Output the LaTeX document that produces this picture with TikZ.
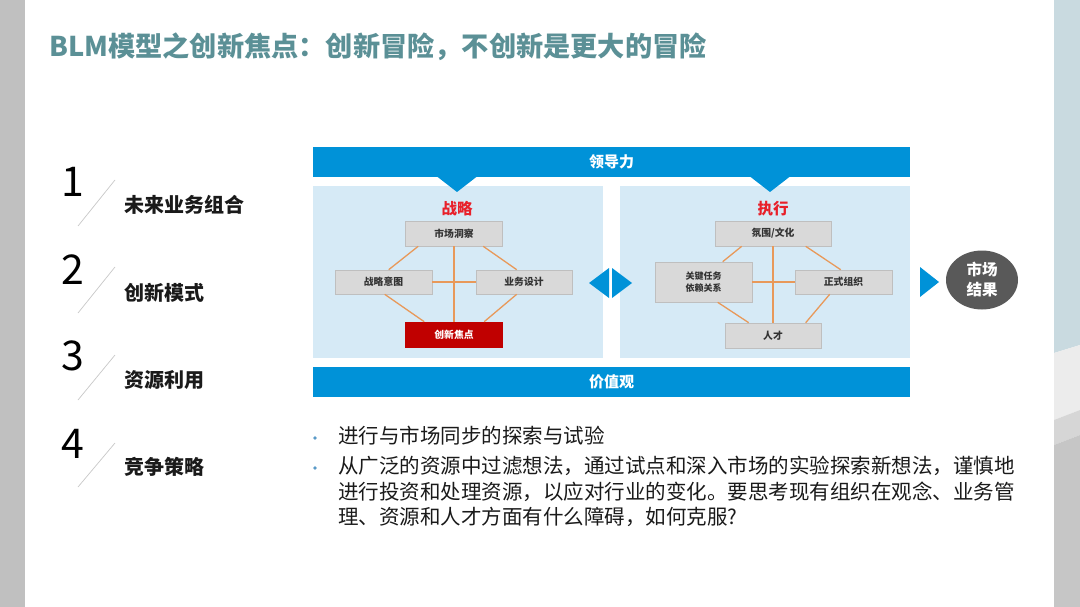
\documentclass[tikz,border=0pt]{standalone}
\usepackage{fontspec}
\setmainfont{Noto Sans CJK SC}
\usetikzlibrary{calc,shapes.geometric}
\definecolor{bluebar}{HTML}{0092D8}
\definecolor{panelcol}{HTML}{D6EAF6}
\definecolor{boxgray}{HTML}{D9D9D9}
\definecolor{boxline}{HTML}{BFBFBF}
\definecolor{boxred}{HTML}{C00000}
\definecolor{redtext}{HTML}{E8202A}
\definecolor{linkcol}{HTML}{E8995A}
\definecolor{ellcol}{HTML}{595959}
\definecolor{titlecol}{HTML}{5B9096}
\definecolor{leftgray}{HTML}{C0C0C0}
\definecolor{stripblue}{HTML}{C9DAE0}
\definecolor{stripl}{HTML}{ECECEC}
\definecolor{stripm}{HTML}{D6D6D6}
\definecolor{stripd}{HTML}{C6C6C6}
\definecolor{slashcol}{HTML}{C8C8C8}
\definecolor{bulletcol}{HTML}{5A9AC8}
\definecolor{bodytext}{HTML}{1A1A1A}
\tikzset{
  bar/.style={fill=bluebar, draw=none, text=white, font=\fontsize{15}{18}\selectfont\bfseries,
    minimum width=597pt, minimum height=30pt, inner sep=0pt},
  panel/.style={fill=panelcol, draw=none, minimum width=290pt, minimum height=172pt, inner sep=0pt},
  gbox/.style={fill=boxgray, draw=boxline, line width=0.6pt, text=black!80,
    font=\fontsize{9.8}{11}\selectfont\bfseries, inner sep=0pt, align=center},
  rbox/.style={gbox, fill=boxred, draw=boxred, text=white},
  redt/.style={text=redtext, font=\fontsize{15.5}{18}\selectfont\bfseries, inner sep=0pt},
  link/.style={draw=linkcol, line width=1.3pt},
  arrowfill/.style={fill=bluebar, draw=none},
  num/.style={font=\fontsize{41}{44}\selectfont, text=black, inner sep=0pt},
  slash/.style={draw=slashcol, line width=0.7pt},
  item/.style={anchor=west, font=\fontsize{20}{22}\selectfont\bfseries, text=bodytext, inner sep=0pt},
  body/.style={anchor=north west, font=\fontsize{20.5}{25.5}\selectfont, text=bodytext, inner sep=0pt, align=left},
  dot/.style={fill=bulletcol, draw=none}
}
\begin{document}
\begin{tikzpicture}[x=1pt,y=-1pt]
\useasboundingbox (0,0) rectangle (1080,607);
\fill[white] (0,0) rectangle (1080,607);
\fill[leftgray] (0,0) rectangle (25,607);
\fill[stripblue] (1054,0) -- (1080,0) -- (1080,345) -- (1054,353) -- cycle;
\fill[stripl] (1054,353) -- (1080,345) -- (1080,410) -- (1054,420) -- cycle;
\fill[stripm] (1054,420) -- (1080,410) -- (1080,435) -- (1054,445) -- cycle;
\fill[stripd] (1054,445) -- (1080,435) -- (1080,607) -- (1054,607) -- cycle;

% title
\node[anchor=west, inner sep=0pt, text=titlecol, font=\fontsize{27.2}{30}\selectfont\bfseries] (title) at (49,47) {BLM模型之创新焦点：创新冒险，不创新是更大的冒险};

% left list
\node[num] (n1) at (73,182) {1};
\node[num] (n2) at (73,270) {2};
\node[num] (n3) at (73,356) {3};
\node[num] (n4) at (73,444) {4};
\coordinate (s1a) at (78,226); \coordinate (s1b) at (115,180);
\coordinate (s2a) at (78,313); \coordinate (s2b) at (115,267);
\coordinate (s3a) at (78,400); \coordinate (s3b) at (115,355);
\coordinate (s4a) at (78,487); \coordinate (s4b) at (115,443);
\draw[slash] (s1a) -- (s1b);
\draw[slash] (s2a) -- (s2b);
\draw[slash] (s3a) -- (s3b);
\draw[slash] (s4a) -- (s4b);
\node[item] (t1) at (124,205) {未来业务组合};
\node[item] (t2) at (124,293) {创新模式};
\node[item] (t3) at (124,380) {资源利用};
\node[item] (t4) at (124,467) {竞争策略};

% panels and bars
\node[bar] (lead) at (611.5,162) {领导力};
\node[panel] (lp) at (458,272) {};
\node[panel] (rp) at (765,272) {};
\node[bar] (value) at (611.5,382) {价值观};
\fill[arrowfill] (437,176.5) -- (477,176.5) -- (457,192) -- cycle;
\fill[arrowfill] (750,176.5) -- (790,176.5) -- (770,192) -- cycle;

% double arrow and right arrow
\fill[arrowfill] (609,268) -- (609,298) -- (589,283) -- cycle;
\fill[arrowfill] (612,268) -- (612,298) -- (632,283) -- cycle;
\fill[arrowfill] (920,267) -- (920,297) -- (939,282) -- cycle;

% market result
\node[ellipse, fill=ellcol, minimum width=72pt, minimum height=59pt, inner sep=0pt, text=white,
  align=center, font=\fontsize{15.5}{20}\selectfont\bfseries] (mr) at (982,280) {市场\\结果};

% strategy
\node[redt] (zl) at (457,209) {战略};
\node[gbox, minimum width=97pt, minimum height=25pt] (mc) at (454,233.5) {市场洞察};
\node[gbox, minimum width=97pt, minimum height=24pt] (zy) at (383.5,282) {战略意图};
\node[gbox, minimum width=96pt, minimum height=24pt] (yw) at (524,282) {业务设计};
\node[rbox, minimum width=97pt, minimum height=25pt] (cx) at (454,334.5) {创新焦点};
\draw[link] (mc.south) -- (cx.north);
\draw[link] (zy.east) -- (yw.west);
\draw[link] ([xshift=13pt]mc.south west) -- ([xshift=54pt]zy.north west);
\draw[link] ([xshift=78pt]mc.south west) -- ([xshift=41pt]yw.north west);
\draw[link] ([xshift=50pt]zy.south west) -- ([xshift=19pt]cx.north west);
\draw[link] ([xshift=41pt]yw.south west) -- ([xshift=79pt]cx.north west);

% execution
\node[redt] (zx) at (773,209) {执行};
\node[gbox, minimum width=116pt, minimum height=25pt] (fw) at (773,233.5) {氛围/文化};
\node[gbox, minimum width=97pt, minimum height=40pt, font=\fontsize{9}{12}\selectfont\bfseries] (gj) at (703.5,282) {关键任务\\依赖关系};
\node[gbox, minimum width=97pt, minimum height=24pt] (zs) at (843.5,282) {正式组织};
\node[gbox, minimum width=96pt, minimum height=25pt] (rc) at (773,335.5) {人才};
\draw[link] (fw.south) -- (rc.north);
\draw[link] (gj.east) -- (zs.west);
\draw[link] ([xshift=27pt]fw.south west) -- ([xshift=68pt]gj.north west);
\draw[link] ([xshift=91pt]fw.south west) -- ([xshift=46pt]zs.north west);
\draw[link] ([xshift=63pt]gj.south west) -- ([xshift=24pt]rc.north west);
\draw[link] ([xshift=35pt]zs.south west) -- ([xshift=81pt]rc.north west);

% bullets
\fill[dot] (315,438) circle (1.8);
\fill[dot] (315,468) circle (1.8);
\node[body] (b1) at (338,426) {进行与市场同步的探索与试验};
\node[body] (b2) at (338,456) {从广泛的资源中过滤想法，通过试点和深入市场的实验探索新想法，谨慎地\\进行投资和处理资源，以应对行业的变化。要思考现有组织在观念、业务管\\理、资源和人才方面有什么障碍，如何克服?};
\end{tikzpicture}
\end{document}
